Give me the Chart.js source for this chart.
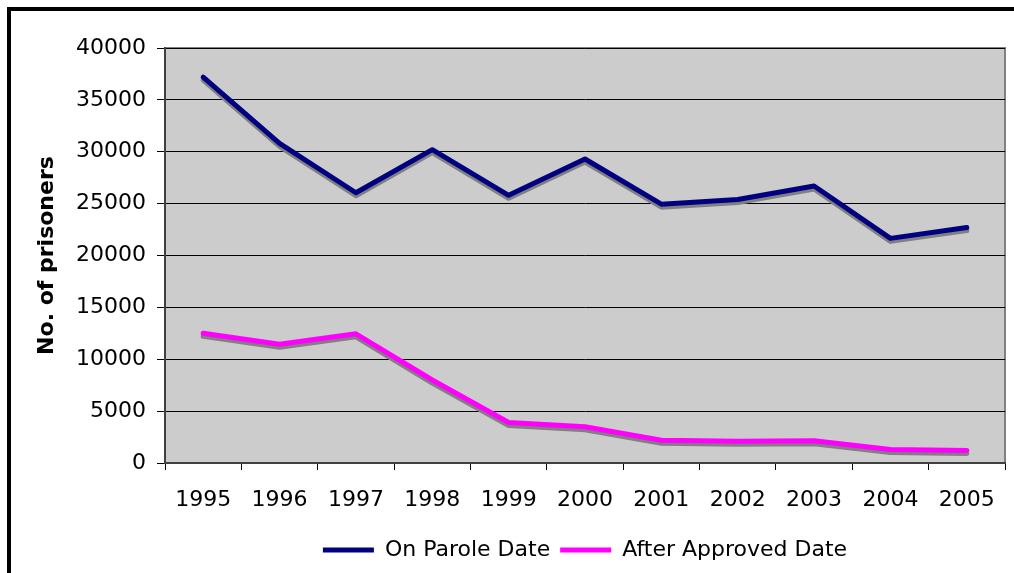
<!DOCTYPE html>
<html>
<head>
<meta charset="utf-8">
<script src="https://cdn.jsdelivr.net/npm/chart.js@4/dist/chart.umd.min.js"></script>
<style>
  html, body { margin: 0; padding: 0; background: #fff; }
  #wrap { width: 1014px; height: 573px; }
</style>
</head>
<body>
<div id="wrap"><canvas id="chart"></canvas></div>
<script>
const years = ['1995', '1996', '1997', '1998', '1999', '2000', '2001', '2002', '2003', '2004', '2005'];
const onParole = [37200, 30800, 26050, 30200, 25800, 29300, 24950, 25400, 26700, 21650, 22700];
const afterApproved = [12500, 11450, 12450, 8000, 3900, 3500, 2200, 2100, 2150, 1300, 1200];
const yTicks = [0, 5000, 10000, 15000, 20000, 25000, 30000, 35000, 40000];

const FONT = 'DejaVu Sans';

// white page, thick black frame, grey plot box
const frame = {
  id: 'frame',
  beforeDraw(chart) {
    const ctx = chart.ctx, a = chart.chartArea;
    ctx.save();
    ctx.fillStyle = '#fff';
    ctx.fillRect(0, 0, chart.width, chart.height);
    ctx.strokeStyle = '#000';
    ctx.lineWidth = 4;
    ctx.strokeRect(9, 9, chart.width + 100, chart.height + 100);
    ctx.fillStyle = '#cccccc';
    ctx.fillRect(a.left, a.top, a.right - a.left, a.bottom - a.top);
    ctx.strokeStyle = '#808080';
    ctx.lineWidth = 2;
    ctx.beginPath();
    ctx.moveTo(a.left, a.top);
    ctx.lineTo(a.right, a.top);
    ctx.lineTo(a.right, a.bottom);
    ctx.stroke();
    ctx.restore();
  }
};

// grey drop shadow under each line
const shadow = {
  id: 'shadow',
  beforeDatasetDraw(chart) {
    const ctx = chart.ctx;
    ctx.save();
    ctx.shadowColor = '#808080';
    ctx.shadowOffsetX = 0;
    ctx.shadowOffsetY = 3;
    ctx.shadowBlur = 0;
  },
  afterDatasetDraw(chart) {
    chart.ctx.restore();
  }
};

new Chart(document.getElementById('chart'), {
  type: 'line',
  data: {
    labels: years,
    datasets: [
      {
        label: 'On Parole Date',
        data: onParole,
        borderColor: '#000080',
        backgroundColor: '#000080',
        borderWidth: 5,
        borderCapStyle: 'round',
        borderJoinStyle: 'round',
        pointRadius: 0,
        tension: 0
      },
      {
        label: 'After Approved Date',
        data: afterApproved,
        borderColor: '#ff00ff',
        backgroundColor: '#ff00ff',
        borderWidth: 5,
        borderCapStyle: 'round',
        borderJoinStyle: 'round',
        pointRadius: 0,
        tension: 0
      }
    ]
  },
  options: {
    responsive: true,
    maintainAspectRatio: false,
    animation: false,
    layout: { padding: { left: 0, right: 9, top: 48, bottom: 2 } },
    plugins: {
      tooltip: { enabled: false },
      legend: {
        position: 'bottom',
        fullSize: false,
        labels: {
          usePointStyle: true,
          pointStyle: 'line',
          pointStyleWidth: 51,
          color: '#000',
          padding: 10,
          font: { family: FONT, size: 22 }
        }
      }
    },
    scales: {
      x: {
        offset: true,
        grid: { display: true, offset: true, drawOnChartArea: false, tickLength: 7, color: '#000' },
        border: { color: '#404040', width: 2 },
        ticks: { color: '#000', padding: 17, maxRotation: 0, font: { family: FONT, size: 22 } },
        afterFit(scale) { scale.height = 66; }
      },
      y: {
        min: 0,
        max: 40000,
        afterBuildTicks(scale) { scale.ticks = yTicks.map(v => ({ value: v })); },
        grid: { color: '#000', tickLength: 8 },
        border: { color: '#404040', width: 2 },
        ticks: {
          color: '#000',
          padding: 11,
          font: { family: FONT, size: 22 },
          callback: v => String(v)
        },
        title: {
          display: true,
          text: 'No. of prisoners',
          color: '#000',
          padding: { top: 34, bottom: 0 },
          font: { family: FONT, size: 22, weight: 'bold' }
        },
        afterFit(scale) { scale.width = 165; }
      }
    }
  },
  plugins: [frame, shadow]
});
</script>
</body>
</html>
